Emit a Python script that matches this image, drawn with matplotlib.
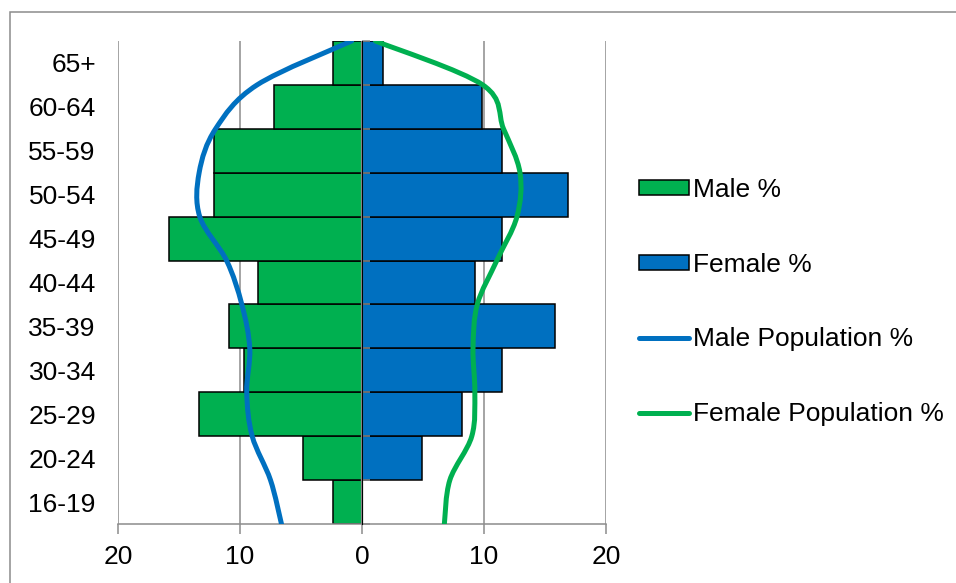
import numpy as np
import matplotlib
matplotlib.use('Agg')
import matplotlib.pyplot as plt
from matplotlib.path import Path
from matplotlib.patches import PathPatch, Patch, Rectangle
from matplotlib.lines import Line2D

plt.rcParams['font.family'] = ['Liberation Sans', 'DejaVu Sans']

# age groups, bottom to top
age_groups = ['16-19', '20-24', '25-29', '30-34', '35-39', '40-44',
              '45-49', '50-54', '55-59', '60-64', '65+']
male_pct = [2.35, 4.8, 13.35, 9.7, 10.9, 8.5, 15.85, 12.15, 12.15, 7.25, 2.4]
female_pct = [0, 4.95, 8.2, 11.45, 15.8, 9.25, 11.45, 16.85, 11.45, 9.8, 1.7]

# population curves, one value per band boundary (0 = bottom, 11 = top)
curve_levels = [0, 1, 2, 3, 4, 5, 6, 7, 8, 9, 10, 11]
male_pop = [6.6, 7.5, 9.0, 9.45, 9.2, 9.85, 11.1, 13.3, 13.35, 12.0, 8.6, 0.85]
female_pop = [6.75, 7.2, 9.0, 9.25, 9.1, 9.45, 11.05, 12.7, 12.95, 11.6, 9.9, 1.1]

x_ticks = [-20, -10, 0, 10, 20]
x_labels = ['20', '10', '0', '10', '20']

GREEN = '#00B050'
BLUE = '#0070C0'
GRAY = '#8C8C8C'


def smooth_path(xs, ys):
    # catmull-rom style smoothing, like excel's smoothed line
    pts = np.column_stack([xs, ys]).astype(float)
    n = len(pts)
    verts = [pts[0]]
    codes = [Path.MOVETO]
    for i in range(n - 1):
        p0 = pts[max(i - 1, 0)]
        p1 = pts[i]
        p2 = pts[i + 1]
        p3 = pts[min(i + 2, n - 1)]
        verts += [p1 + (p2 - p0) / 6, p2 - (p3 - p1) / 6, p2]
        codes += [Path.CURVE4] * 3
    return Path(verts, codes)


fig = plt.figure(figsize=(9.56, 5.83), dpi=100)
ax = fig.add_axes([118 / 956, 1 - 524 / 583, (606 - 118) / 956, (524 - 41) / 583])

ypos = np.arange(len(age_groups)) + 0.5
ax.barh(ypos, [-v for v in male_pct], height=1.0, color=GREEN,
        edgecolor='black', linewidth=1.1, zorder=2)
ax.barh(ypos, female_pct, height=1.0, color=BLUE,
        edgecolor='black', linewidth=1.1, zorder=2)

ax.add_patch(PathPatch(smooth_path([-v for v in male_pop], curve_levels),
                       fill=False, edgecolor=BLUE, lw=3.6, capstyle='round', zorder=5))
ax.add_patch(PathPatch(smooth_path(female_pop, curve_levels),
                       fill=False, edgecolor=GREEN, lw=3.6, capstyle='round', zorder=5))

ax.set_xlim(-20, 20)
ax.set_ylim(0, len(age_groups))
ax.set_xticks(x_ticks)
ax.set_xticklabels(x_labels, fontsize=19)
ax.set_yticks(ypos)
ax.set_yticklabels(age_groups, fontsize=19)
ax.tick_params(axis='y', length=0, pad=16)
ax.tick_params(axis='x', length=7, width=1.1, color=GRAY, pad=8)

for v in x_ticks:
    if v != 0:
        ax.axvline(v, color=GRAY, lw=1.1, zorder=1)
# zero axis line drawn over the bar edges
ax.axvline(0, color=GRAY, lw=1.6, zorder=4)

for s in ['top', 'right', 'left']:
    ax.spines[s].set_visible(False)
ax.spines['bottom'].set_color(GRAY)
ax.spines['bottom'].set_linewidth(1.1)

# vertical axis crossing at zero (tick marks at band boundaries)
sec = ax.secondary_yaxis(0.5)
sec.set_yticks(np.arange(len(age_groups) + 1))
sec.set_yticklabels([])
sec.tick_params(length=6, width=1.1, color=GRAY, direction='out')
sec.spines['left'].set_color(GRAY)
sec.spines['left'].set_linewidth(1.6)
sec.set_zorder(4)

handles = [Patch(facecolor=GREEN, edgecolor='black', lw=1.1),
           Patch(facecolor=BLUE, edgecolor='black', lw=1.1),
           Line2D([], [], color=BLUE, lw=3.6, solid_capstyle='round'),
           Line2D([], [], color=GREEN, lw=3.6, solid_capstyle='round')]
labels = ['Male %', 'Female %', 'Male Population %', 'Female Population %']
fig.legend(handles, labels, loc='center left', bbox_to_anchor=(628 / 956, 1 - 302 / 583),
           frameon=False, fontsize=19, handlelength=1.9, handleheight=0.5,
           handletextpad=0.15, labelspacing=1.93, borderaxespad=0)

# chart border (left and top edges visible)
fig.patches.append(Rectangle((9.5 / 956, -0.1), 1.2, 1.1 - 12.5 / 583,
                             transform=fig.transFigure, fill=False,
                             edgecolor=GRAY, lw=1.1))

fig.savefig('out.png', dpi=100)
